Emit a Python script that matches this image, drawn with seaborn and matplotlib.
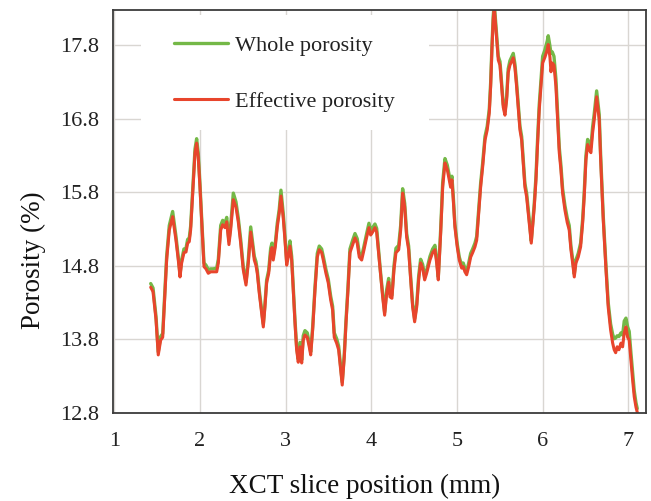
import matplotlib
matplotlib.use("Agg")
import matplotlib.pyplot as plt
from matplotlib.patches import Rectangle
import pandas as pd
import seaborn as sns

# Slice position along the sample (mm)
positions = [
    1.425, 1.452, 1.487, 1.513, 1.541, 1.565, 1.611, 1.642, 1.681, 1.720,
    1.747, 1.767, 1.786, 1.813, 1.837, 1.856, 1.875, 1.891, 1.915, 1.942,
    1.961, 1.980, 2.000, 2.023, 2.047, 2.070, 2.097, 2.125, 2.155, 2.195,
    2.214, 2.242, 2.265, 2.292, 2.312, 2.338, 2.358, 2.389, 2.420, 2.447,
    2.475, 2.505, 2.537, 2.564, 2.592, 2.615, 2.634, 2.653, 2.669, 2.692,
    2.720, 2.739, 2.758, 2.778, 2.802, 2.825, 2.840, 2.855, 2.879, 2.902,
    2.925, 2.945, 2.972, 2.992, 3.012, 3.030, 3.050, 3.070, 3.089, 3.109,
    3.128, 3.147, 3.167, 3.187, 3.205, 3.225, 3.252, 3.275, 3.292, 3.315,
    3.342, 3.369, 3.392, 3.420, 3.439, 3.470, 3.497, 3.525, 3.548, 3.567,
    3.595, 3.618, 3.642, 3.660, 3.684, 3.704, 3.727, 3.750, 3.782, 3.809,
    3.835, 3.859, 3.887, 3.914, 3.945, 3.972, 3.992, 4.015, 4.042, 4.062,
    4.081, 4.109, 4.132, 4.155, 4.179, 4.202, 4.217, 4.240, 4.264, 4.287,
    4.319, 4.342, 4.365, 4.389, 4.412, 4.435, 4.459, 4.482, 4.505, 4.529,
    4.552, 4.575, 4.599, 4.622, 4.645, 4.684, 4.715, 4.742, 4.762, 4.781,
    4.809, 4.832, 4.859, 4.886, 4.909, 4.925, 4.940, 4.956, 4.975, 5.002,
    5.026, 5.054, 5.072, 5.092, 5.112, 5.136, 5.159, 5.182, 5.209, 5.229,
    5.252, 5.275, 5.299, 5.326, 5.352, 5.376, 5.392, 5.407, 5.422, 5.434,
    5.462, 5.481, 5.501, 5.520, 5.539, 5.559, 5.579, 5.597, 5.617, 5.637,
    5.656, 5.676, 5.695, 5.714, 5.734, 5.754, 5.772, 5.792, 5.812, 5.831,
    5.851, 5.866, 5.882, 5.901, 5.921, 5.940, 5.959, 5.979, 5.999, 6.026,
    6.053, 6.064, 6.084, 6.096, 6.111, 6.131, 6.154, 6.174, 6.193, 6.212,
    6.232, 6.259, 6.286, 6.309, 6.329, 6.349, 6.368, 6.387, 6.414, 6.442,
    6.466, 6.484, 6.504, 6.524, 6.543, 6.562, 6.582, 6.601, 6.629, 6.659,
    6.676, 6.706, 6.738, 6.764, 6.792, 6.816, 6.834, 6.851, 6.869, 6.889,
    6.913, 6.932, 6.951, 6.971, 6.991, 7.009, 7.029, 7.049, 7.068, 7.088,
    7.103,
]

# Effective porosity (%)
effective = [
    14.51, 14.45, 14.07, 13.59, 13.79, 13.83, 14.88, 15.29, 15.47, 15.15,
    14.88, 14.65, 14.84, 14.98, 14.99, 15.11, 15.13, 15.29, 15.79, 16.34,
    16.47, 16.28, 15.87, 15.33, 14.79, 14.76, 14.70, 14.72, 14.72, 14.72,
    14.84, 15.29, 15.36, 15.32, 15.40, 15.09, 15.29, 15.70, 15.60, 15.40,
    15.11, 14.75, 14.54, 14.84, 15.26, 15.06, 14.88, 14.81, 14.70, 14.43,
    14.16, 13.97, 14.24, 14.57, 14.70, 14.98, 15.05, 14.88, 15.06, 15.33,
    15.52, 15.75, 15.45, 15.15, 14.81, 14.92, 15.07, 14.88, 14.47, 14.02,
    13.66, 13.49, 13.70, 13.48, 13.79, 13.86, 13.83, 13.70, 13.59, 13.93,
    14.47, 14.92, 15.02, 14.98, 14.88, 14.70, 14.57, 14.34, 14.20, 13.83,
    13.75, 13.66, 13.39, 13.18, 13.56, 14.02, 14.47, 14.98, 15.09, 15.18,
    15.11, 14.92, 14.88, 15.02, 15.19, 15.32, 15.22, 15.26, 15.32, 15.26,
    15.02, 14.65, 14.38, 14.13, 14.43, 14.58, 14.38, 14.36, 14.75, 14.98,
    15.02, 15.29, 15.79, 15.60, 15.19, 15.02, 14.61, 14.24, 14.04, 14.24,
    14.61, 14.84, 14.77, 14.61, 14.70, 14.88, 14.98, 15.02, 14.84, 14.61,
    15.25, 15.87, 16.20, 16.11, 15.97, 15.87, 15.97, 15.70, 15.33, 15.06,
    14.88, 14.77, 14.79, 14.72, 14.68, 14.79, 14.92, 14.98, 15.06, 15.15,
    15.52, 15.87, 16.15, 16.51, 16.65, 16.88, 17.24, 17.74, 18.15, 18.32,
    17.88, 17.60, 17.53, 17.24, 16.96, 16.85, 17.06, 17.43, 17.53, 17.58,
    17.63, 17.49, 17.24, 16.96, 16.65, 16.51, 16.20, 15.87, 15.74, 15.52,
    15.29, 15.11, 15.33, 15.60, 15.97, 16.47, 16.92, 17.24, 17.56, 17.64,
    17.74, 17.81, 17.64, 17.44, 17.56, 17.53, 17.24, 16.79, 16.34, 16.11,
    15.79, 15.56, 15.39, 15.29, 15.02, 14.84, 14.65, 14.84, 14.92, 15.06,
    15.39, 15.74, 16.24, 16.45, 16.38, 16.34, 16.61, 16.79, 17.10, 16.79,
    16.24, 15.43, 14.75, 14.24, 13.93, 13.75, 13.66, 13.62, 13.70, 13.66,
    13.75, 13.70, 13.89, 13.97, 13.83, 13.79, 13.52, 13.25, 13.02, 12.88,
    12.81,
]

# Whole porosity (%)
whole = [
    14.56, 14.50, 14.11, 13.63, 13.84, 13.88, 14.93, 15.35, 15.54, 15.20,
    14.92, 14.69, 14.88, 15.03, 15.04, 15.16, 15.18, 15.34, 15.84, 16.39,
    16.53, 16.33, 15.91, 15.37, 14.84, 14.81, 14.75, 14.76, 14.76, 14.77,
    14.89, 15.35, 15.42, 15.38, 15.46, 15.14, 15.35, 15.79, 15.67, 15.45,
    15.16, 14.79, 14.58, 14.89, 15.33, 15.11, 14.93, 14.86, 14.74, 14.47,
    14.20, 14.01, 14.28, 14.61, 14.74, 15.04, 15.11, 14.93, 15.11, 15.38,
    15.57, 15.83, 15.51, 15.20, 14.86, 14.98, 15.14, 14.93, 14.51, 14.06,
    13.70, 13.53, 13.76, 13.52, 13.85, 13.92, 13.89, 13.75, 13.63, 13.97,
    14.51, 14.97, 15.07, 15.03, 14.93, 14.75, 14.62, 14.39, 14.25, 13.89,
    13.81, 13.71, 13.43, 13.22, 13.60, 14.06, 14.51, 15.03, 15.15, 15.24,
    15.17, 14.97, 14.93, 15.07, 15.24, 15.38, 15.28, 15.32, 15.37, 15.31,
    15.06, 14.69, 14.42, 14.17, 14.48, 14.63, 14.42, 14.40, 14.80, 15.04,
    15.08, 15.35, 15.85, 15.65, 15.24, 15.07, 14.65, 14.28, 14.08, 14.28,
    14.66, 14.89, 14.82, 14.65, 14.74, 14.93, 15.03, 15.08, 14.89, 14.65,
    15.30, 15.93, 16.26, 16.17, 16.03, 15.93, 16.02, 15.75, 15.37, 15.10,
    14.92, 14.81, 14.84, 14.77, 14.72, 14.84, 14.97, 15.03, 15.11, 15.20,
    15.57, 15.92, 16.20, 16.56, 16.70, 16.93, 17.29, 17.79, 18.20, 18.37,
    17.93, 17.65, 17.58, 17.28, 17.00, 16.89, 17.11, 17.48, 17.59, 17.64,
    17.69, 17.54, 17.29, 17.01, 16.70, 16.56, 16.25, 15.92, 15.79, 15.57,
    15.33, 15.14, 15.37, 15.65, 16.02, 16.53, 16.99, 17.32, 17.65, 17.74,
    17.86, 17.93, 17.79, 17.69, 17.71, 17.65, 17.34, 16.87, 16.41, 16.17,
    15.85, 15.62, 15.45, 15.35, 15.07, 14.89, 14.69, 14.88, 14.97, 15.11,
    15.44, 15.80, 16.30, 16.52, 16.45, 16.42, 16.69, 16.87, 17.18, 16.86,
    16.30, 15.48, 14.80, 14.30, 14.01, 13.87, 13.81, 13.82, 13.85, 13.84,
    13.89, 13.86, 14.05, 14.09, 13.97, 13.91, 13.62, 13.35, 13.10, 12.94,
    12.86,
]

x_ticks = [1, 2, 3, 4, 5, 6, 7]
y_ticks = [12.8, 13.8, 14.8, 15.8, 16.8, 17.8]
y_tick_labels = ["12.8", "13.8", "14.8", "15.8", "16.8", "17.8"]

green = "#74B847"
red = "#E8452C"

sns.set_style("whitegrid")
plt.rcParams["font.family"] = ["Liberation Serif", "DejaVu Serif"]

fig = plt.figure(figsize=(6.51, 5.01), dpi=100)
ax = fig.add_axes([113 / 651, 88 / 501, 533 / 651, 403 / 501])

df = pd.DataFrame({"pos": positions, "whole": whole, "effective": effective})
sns.lineplot(data=df, x="pos", y="whole", color=green, linewidth=2.4,
             estimator=None, sort=False, label="Whole porosity", ax=ax)
sns.lineplot(data=df, x="pos", y="effective", color=red, linewidth=2.2,
             estimator=None, sort=False, label="Effective porosity", ax=ax)

ax.set_xlim(0.985, 7.205)
ax.set_ylim(12.8, 18.28)
ax.set_xticks(x_ticks)
ax.set_yticks(y_ticks)
ax.set_yticklabels(y_tick_labels)
ax.tick_params(axis="both", length=0, labelsize=16, colors="#222222")
ax.tick_params(axis="y", pad=10)
ax.tick_params(axis="x", pad=14)

ax.grid(True, color="#d9d6d2", linewidth=1.0)
ax.set_facecolor("white")
for side in ax.spines.values():
    side.set_visible(True)
    side.set_color("#3c3c3c")
    side.set_linewidth(1.3)

ax.set_xlabel("XCT slice position (mm)", fontsize=19.5, color="#111111")
ax.set_ylabel("Porosity (%)", fontsize=19.5, color="#111111")
ax.xaxis.set_label_coords(0.473, -0.152)
ax.yaxis.set_label_coords(-0.126, 0.38)

# White backing behind the legend entries
ax.add_patch(Rectangle((0.0525, 0.702), 0.5405, 0.2856, transform=ax.transAxes,
                       facecolor="white", edgecolor="none", zorder=1.5))

leg = ax.legend(loc="upper left", bbox_to_anchor=(0.1144, 0.938), frameon=False,
                fontsize=16, handlelength=2.45, handletextpad=0.28,
                labelspacing=1.62, borderpad=0, borderaxespad=0)
for t in leg.get_texts():
    t.set_color("#222222")

fig.savefig("out.png", dpi=100, facecolor="white")
